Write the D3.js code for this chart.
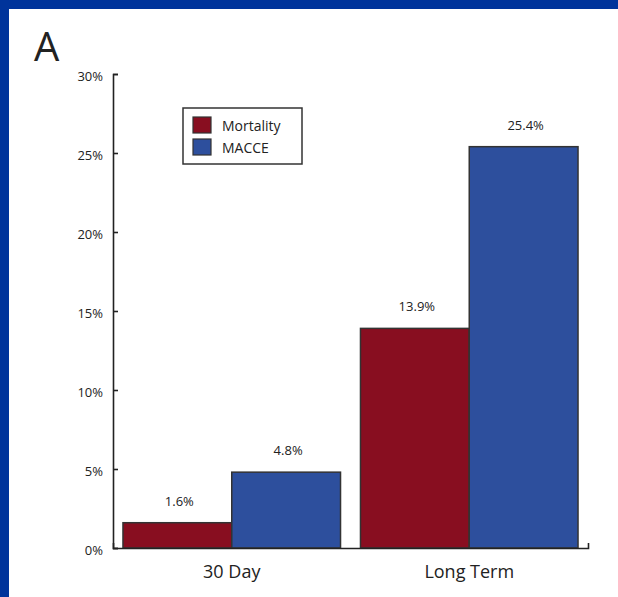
<!DOCTYPE html>
<html>
<head>
<meta charset="utf-8">
<script src="https://cdn.jsdelivr.net/npm/d3@7"></script>
<style>
  body { margin: 0; background: #fff; }
  svg text { font-family: "Open Sans", "Noto Sans", sans-serif; fill: #222; }
</style>
</head>
<body>
<script>
// data
const categories = ["30 Day", "Long Term"];
const seriesNames = ["Mortality", "MACCE"];
const mortality = [1.6, 13.9];
const macce = [4.8, 25.4];
const yTicks = [0, 5, 10, 15, 20, 25, 30];
const colors = ["#880e20", "#2d4f9d"];

let width = 618, height = 597;
let svg = d3.select("body").append("svg")
  .attr("width", width)
  .attr("height", height);

// blue frame with white panel
svg.append("rect").attr("width", width).attr("height", height).attr("fill", "#00349b");
svg.append("rect").attr("x", 9).attr("y", 9).attr("width", width - 9).attr("height", height - 9).attr("fill", "#fff");

// panel letter
svg.append("text").text("A")
  .attr("x", 34).attr("y", 61)
  .style("font-size", "40px");

let plot = { left: 113, right: 588, top: 74, bottom: 548 };

let x0 = d3.scaleBand()
  .domain(categories)
  .range([plot.left, plot.right])
  .paddingInner(0.084)
  .paddingOuter(0.042);
let x1 = d3.scaleBand()
  .domain(seriesNames)
  .range([0, x0.bandwidth()]);
let y = d3.scaleLinear()
  .domain([0, 30])
  .range([plot.bottom, plot.top]);
let color = d3.scaleOrdinal().domain(seriesNames).range(colors);

// build rows from the arrays
let rows = categories.map((c, i) => ({
  cat: c,
  values: [
    { key: "Mortality", value: mortality[i] },
    { key: "MACCE", value: macce[i] }
  ]
}));

let groups = svg.selectAll("g.group")
  .data(rows)
  .join("g")
  .classed("group", true)
  .attr("transform", d => `translate(${x0(d.cat)}, 0)`);

groups.selectAll("rect")
  .data(d => d.values)
  .join("rect")
  .attr("x", d => x1(d.key))
  .attr("y", d => y(d.value))
  .attr("width", x1.bandwidth())
  .attr("height", d => y(0) - y(d.value))
  .attr("fill", d => color(d.key))
  .attr("stroke", "#333")
  .attr("stroke-width", 1.5);

groups.selectAll("text.val")
  .data(d => d.values)
  .join("text")
  .classed("val", true)
  .text(d => d.value.toFixed(1) + "%")
  .attr("x", d => x1(d.key) + x1.bandwidth() / 2 + 2)
  .attr("y", d => y(d.value) - 17)
  .attr("text-anchor", "middle")
  .style("font-size", "13px");

// y axis: ticks point inward, labels on the left
let yAxis = d3.axisLeft(y)
  .tickValues(yTicks)
  .tickFormat(d => d + "%")
  .tickSize(-5)
  .tickSizeOuter(-5)
  .tickPadding(10);
let yAxisG = svg.append("g")
  .attr("transform", `translate(${plot.left}, 0)`)
  .call(yAxis);
yAxisG.selectAll("text")
  .attr("dy", "0.5em")
  .style("font-size", "13px")
  .style("font-family", "'Open Sans', sans-serif");

// x axis: plain line with caps at the ends
let xAxis = d3.axisBottom(x0)
  .tickSize(0)
  .tickSizeOuter(-5)
  .tickPadding(17);
let xAxisG = svg.append("g")
  .attr("transform", `translate(0, ${plot.bottom})`)
  .call(xAxis);
xAxisG.selectAll("text")
  .style("font-size", "18px")
  .style("font-family", "'Open Sans', sans-serif");

[yAxisG, xAxisG].forEach(g => {
  g.selectAll("path, line").attr("stroke", "#222").attr("stroke-width", 1.6);
  g.selectAll("text").attr("fill", "#222");
});

// legend
let legend = svg.append("g").attr("transform", "translate(183, 108)");
legend.append("rect")
  .attr("width", 119).attr("height", 56)
  .attr("fill", "#fff")
  .attr("stroke", "#333")
  .attr("stroke-width", 1.5);
let items = legend.selectAll("g.item")
  .data(seriesNames)
  .join("g")
  .classed("item", true)
  .attr("transform", (d, i) => `translate(10, ${9 + i * 22})`);
items.append("rect")
  .attr("width", 18).attr("height", 16)
  .attr("fill", d => color(d))
  .attr("stroke", "#333")
  .attr("stroke-width", 1.2);
items.append("text").text(d => d)
  .attr("x", 29).attr("y", 14)
  .style("font-size", "14px");
</script>
</body>
</html>
